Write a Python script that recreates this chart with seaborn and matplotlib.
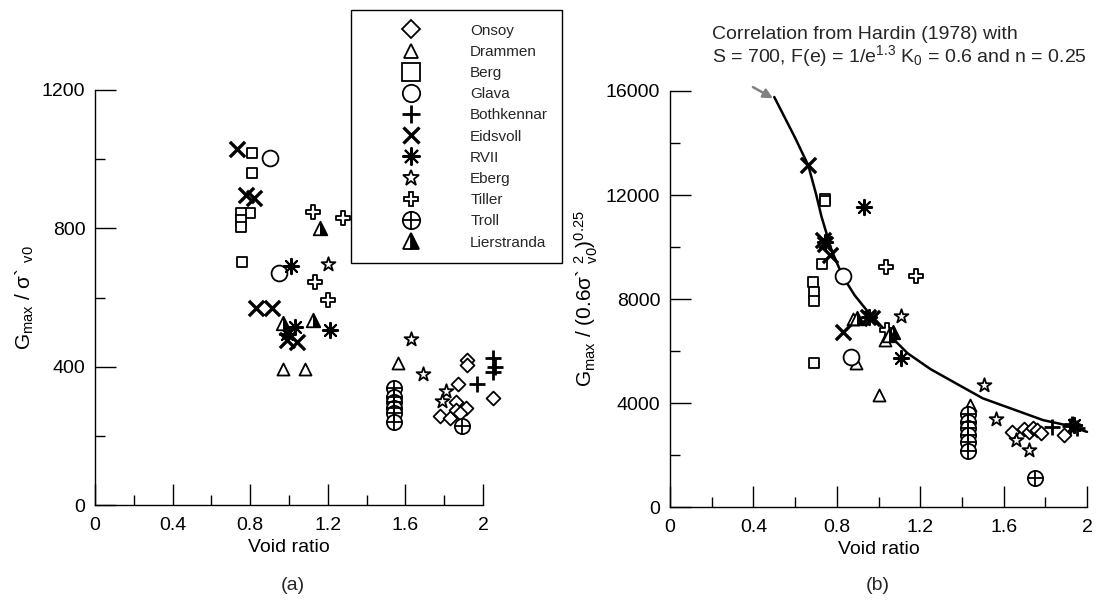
import numpy as np
import pandas as pd
import matplotlib
matplotlib.use("Agg")
import matplotlib.pyplot as plt
from matplotlib.path import Path
from matplotlib.lines import Line2D
from matplotlib.legend_handler import HandlerTuple
from matplotlib.ticker import MultipleLocator
import seaborn as sns

sns.set_theme(style="white")
plt.rcParams['font.family'] = ['Liberation Sans', 'DejaVu Sans']
plt.rcParams['mathtext.fontset'] = 'custom'
plt.rcParams['mathtext.rm'] = 'Liberation Sans'
plt.rcParams['mathtext.it'] = 'Liberation Sans'
plt.rcParams['mathtext.bf'] = 'Liberation Sans:bold'
plt.rcParams['mathtext.default'] = 'regular'

# ---------------- data : panel (a)  Gmax / sigma'v0 ----------------
onsoy_e_a = [1.92, 1.92, 1.87, 2.05, 1.78, 1.83, 1.86, 1.86, 1.91, 1.88]
onsoy_a = [419, 405, 350, 309, 257, 251, 299, 275, 280, 265]
drammen_e_a = [0.97, 1.08, 1.56]
drammen_a = [392, 392, 410]
berg_e_a = [0.81, 0.81, 0.80, 0.75, 0.75, 0.75, 0.76]
berg_a = [1017, 961, 844, 844, 824, 805, 702]
glava_e_a = [0.90, 0.95]
glava_a = [1003, 672]
both_e_a = [1.97, 2.05, 2.06, 2.05]
both_a = [350, 425, 400, 385]
eids_e_a = [0.73, 0.78, 0.82, 0.83, 0.91, 0.99, 1.04]
eids_a = [1029, 897, 887, 569, 569, 477, 472]
rvii_e_a = [1.01, 1.03, 1.21, 0.99]
rvii_a = [690, 515, 505, 495]
eberg_e_a = [1.20, 1.63, 1.69, 1.81, 1.79]
eberg_a = [696, 479, 379, 330, 300]
tiller_e_a = [1.125, 1.28, 1.134, 1.20]
tiller_a = [848, 829, 646, 593]
troll_e_a = [1.54, 1.54, 1.54, 1.54, 1.54, 1.54, 1.89]
troll_a = [337, 313, 299, 280, 265, 241, 228]
lier_e_a = [1.16, 0.97, 1.125]
lier_a = [800, 525, 535]

# ---------------- data : panel (b)  Gmax / (0.6 sigma'v0^2)^0.25 ----------------
onsoy_e_b = [1.64, 1.70, 1.72, 1.74, 1.76, 1.78, 1.89]
onsoy_b = [2890, 3000, 2900, 3050, 2950, 2850, 2770]
drammen_e_b = [0.88, 1.03, 0.89, 1.00, 1.44]
drammen_b = [7250, 6420, 5520, 4300, 3920]
berg_e_b = [0.745, 0.745, 0.73, 0.687, 0.69, 0.692, 0.692]
berg_b = [11860, 11780, 9365, 8658, 8274, 7917, 5522]
glava_e_b = [0.828, 0.868]
glava_b = [8877, 5776]
both_e_b = [1.83, 1.92, 1.93, 1.95, 1.94]
both_b = [3086, 3100, 3200, 3050, 3150]
eids_e_b = [0.663, 0.735, 0.767, 0.828, 0.951, 0.967, 0.745]
eids_b = [13143, 10260, 9684, 6737, 7313, 7252, 10100]
rvii_e_b = [0.93, 0.745, 0.955, 1.106, 1.94]
rvii_b = [11540, 10200, 7300, 5714, 3150]
eberg_e_b = [1.108, 1.506, 1.562, 1.66, 1.72]
eberg_b = [7352, 4689, 3382, 2575, 2190]
tiller_e_b = [1.036, 1.178, 1.039]
tiller_b = [9235, 8877, 6802]
troll_e_b = [1.428, 1.428, 1.428, 1.428, 1.428, 1.428, 1.75]
troll_b = [3574, 3278, 3024, 2767, 2510, 2164, 1103]
lier_e_b = [0.895, 1.071, 1.05]
lier_b = [7252, 6737, 6600]

# Hardin (1978) correlation line
hardin_e = [0.50, 0.60, 0.663, 0.70, 0.727, 0.775, 0.828, 0.885, 0.943, 1.06, 1.14,
            1.25, 1.50, 1.79, 1.90, 2.0]
hardin_g = [15770, 14200, 13143, 12050, 11156, 9877, 8877, 8150, 7571, 6550, 5910,
            5300, 4180, 3340, 3150, 2890]

site_names = ["Onsoy", "Drammen", "Berg", "Glava", "Bothkennar", "Eidsvoll",
              "RVII", "Eberg", "Tiller", "Troll", "Lierstranda"]

# ---------------- figure ----------------
W, H = 1120, 601
fig = plt.figure(figsize=(W / 100, H / 100), dpi=100)
ax_a = fig.add_axes([95 / W, 1 - 505 / H, (483 - 95) / W, (505 - 90) / H])
ax_b = fig.add_axes([670 / W, 1 - 507 / H, (1087 - 670) / W, (507 - 91) / H])

half_tri = Path([(0, 1), (0, -1), (1, -1), (0, 1)],
                [Path.MOVETO, Path.LINETO, Path.LINETO, Path.CLOSEPOLY])
asterisk = (8, 2, 0)
LW = 1.3


def open_pts(ax, x, y, marker, s, lw=LW):
    sns.scatterplot(x=x, y=y, marker=marker, s=s, color="white", edgecolor="black",
                    linewidth=lw, ax=ax, clip_on=False, zorder=3, legend=False)


def line_pts(ax, x, y, marker, s, lw):
    sns.scatterplot(x=x, y=y, marker=marker, s=s, color="black",
                    linewidth=lw, ax=ax, clip_on=False, zorder=3, legend=False)


def draw_sites(ax, d):
    open_pts(ax, d["onsoy"][0], d["onsoy"][1], "D", 50)
    open_pts(ax, d["drammen"][0], d["drammen"][1], "^", 75)
    open_pts(ax, d["berg"][0], d["berg"][1], "s", 52)
    open_pts(ax, d["glava"][0], d["glava"][1], "o", 130)
    line_pts(ax, d["both"][0], d["both"][1], "+", 120, 2.0)
    line_pts(ax, d["eids"][0], d["eids"][1], "x", 120, 2.4)
    line_pts(ax, d["rvii"][0], d["rvii"][1], asterisk, 120, 1.5)
    open_pts(ax, d["eberg"][0], d["eberg"][1], "*", 110)
    open_pts(ax, d["tiller"][0], d["tiller"][1], "P", 95)
    open_pts(ax, d["troll"][0], d["troll"][1], "o", 120)
    line_pts(ax, d["troll"][0], d["troll"][1], "+", 120, 1.3)
    open_pts(ax, d["lier"][0], d["lier"][1], "^", 95)
    sns.scatterplot(x=d["lier"][0], y=d["lier"][1], marker=half_tri, s=95, color="black",
                    linewidth=0, ax=ax, clip_on=False, zorder=4, legend=False)


draw_sites(ax_a, {
    "onsoy": (onsoy_e_a, onsoy_a), "drammen": (drammen_e_a, drammen_a),
    "berg": (berg_e_a, berg_a), "glava": (glava_e_a, glava_a),
    "both": (both_e_a, both_a), "eids": (eids_e_a, eids_a),
    "rvii": (rvii_e_a, rvii_a), "eberg": (eberg_e_a, eberg_a),
    "tiller": (tiller_e_a, tiller_a), "troll": (troll_e_a, troll_a),
    "lier": (lier_e_a, lier_a)})

draw_sites(ax_b, {
    "onsoy": (onsoy_e_b, onsoy_b), "drammen": (drammen_e_b, drammen_b),
    "berg": (berg_e_b, berg_b), "glava": (glava_e_b, glava_b),
    "both": (both_e_b, both_b), "eids": (eids_e_b, eids_b),
    "rvii": (rvii_e_b, rvii_b), "eberg": (eberg_e_b, eberg_b),
    "tiller": (tiller_e_b, tiller_b), "troll": (troll_e_b, troll_b),
    "lier": (lier_e_b, lier_b)})

curve = pd.DataFrame({"e": hardin_e, "g": hardin_g})
sns.lineplot(data=curve, x="e", y="g", color="black", linewidth=1.8, ax=ax_b,
             sort=False, clip_on=False, zorder=2)

# ---------------- axes styling ----------------
for ax, ymax, ymaj in [(ax_a, 1200, 400), (ax_b, 16000, 4000)]:
    ax.set_xlim(0, 2)
    ax.set_ylim(0, ymax)
    ax.xaxis.set_major_locator(MultipleLocator(0.4))
    ax.xaxis.set_minor_locator(MultipleLocator(0.2))
    ax.yaxis.set_major_locator(MultipleLocator(ymaj))
    ax.yaxis.set_minor_locator(MultipleLocator(ymaj / 2))
    ax.set_xticks([0, 0.4, 0.8, 1.2, 1.6, 2.0])
    ax.set_xticklabels(["0", "0.4", "0.8", "1.2", "1.6", "2"])
    ax.tick_params(axis="both", which="major", direction="in", length=15, width=1,
                   color="black", labelsize=14, labelcolor="black")
    ax.tick_params(axis="both", which="minor", direction="in", length=7.5, width=1,
                   color="black")
    ax.tick_params(axis="x", which="major", pad=9)
    ax.tick_params(axis="y", which="major", pad=7)
    ax.tick_params(bottom=True, left=True, which="both")
    for sp in ["top", "right"]:
        ax.spines[sp].set_visible(False)
    for sp in ["left", "bottom"]:
        ax.spines[sp].set_color("black")
        ax.spines[sp].set_linewidth(1)
    ax.set_xlabel("Void ratio", fontsize=14, color="black", labelpad=3)
    ax.grid(False)

ax_a.set_ylabel("G$_{max}$ / σ` $_{v0}$", fontsize=15, color="black", labelpad=4)
ax_b.set_ylabel("G$_{max}$ / (0.6σ` $_{v0}^{2}$)$^{0.25}$", fontsize=15, color="black",
                labelpad=4)

fig.text(293 / W, 1 - 586 / H, "(a)", fontsize=14, ha="center", va="center")
fig.text(878 / W, 1 - 586 / H, "(b)", fontsize=14, ha="center", va="center")

# annotation
ax_b.text(0.2, 18180, "Correlation from Hardin (1978) with", fontsize=14,
          ha="left", va="center", clip_on=False)
ax_b.text(0.2, 17330, "S = 700, F(e) = 1/e$^{1.3}$ K$_{0}$ = 0.6 and n = 0.25", fontsize=14,
          ha="left", va="center", clip_on=False)
ax_b.annotate("", xy=(0.494, 15720), xytext=(0.398, 16150),
              arrowprops=dict(arrowstyle="-|>", color="#808080", lw=1.8,
                              mutation_scale=14, shrinkA=0, shrinkB=0),
              annotation_clip=False)

# ---------------- legend ----------------
def h(marker, ms, filled=False, mew=1.3):
    if filled:
        return Line2D([], [], linestyle="none", marker=marker, markersize=ms,
                      color="black", markeredgewidth=mew)
    return Line2D([], [], linestyle="none", marker=marker, markersize=ms,
                  markerfacecolor="white", markeredgecolor="black", markeredgewidth=mew)

handles = [
    h("D", 9.0),
    h("^", 9.5),
    h("s", 12.5),
    h("o", 12.5),
    h("+", 13, filled=True, mew=2.0),
    h("x", 12, filled=True, mew=2.4),
    h(asterisk, 13, filled=True, mew=1.5),
    h("*", 12),
    h("P", 10),
    (h("o", 12.5), h("+", 12.5, filled=True, mew=1.3)),
    Line2D([], [], linestyle="none", marker="^", markersize=11, fillstyle="right",
           markerfacecolor="black", markerfacecoloralt="white", markeredgecolor="black",
           markeredgewidth=1.3),
]
leg = fig.legend(handles, site_names, loc="upper left",
                 bbox_to_anchor=(351 / W, 1 - 10 / H), borderaxespad=0,
                 frameon=True, fancybox=False, framealpha=1, edgecolor="black",
                 fontsize=11, borderpad=0.9, handlelength=6.0, handletextpad=0.9,
                 labelspacing=0.47, numpoints=1,
                 handler_map={tuple: HandlerTuple(ndivide=1, pad=0)})
leg.get_frame().set_linewidth(1.0)

fig.savefig("out.png", dpi=100)
